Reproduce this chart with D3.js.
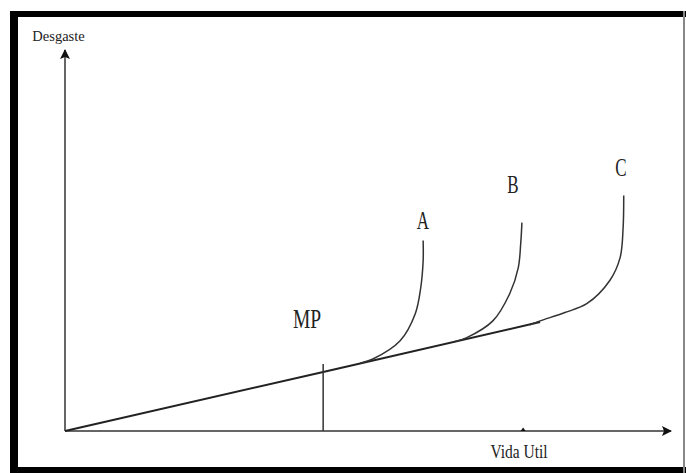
<!DOCTYPE html>
<html><head><meta charset="utf-8">
<script src="https://cdn.jsdelivr.net/npm/d3@7"></script>
<style>html,body{margin:0;padding:0;background:#fff;}svg{display:block;}</style>
</head><body>
<svg id="chart" width="686" height="473"></svg>
<script>
// Data (schematic values: x = vida útil, y = desgaste)
const baseLine = [[0,0],[42.6,15.5],[78.4,28.6]];
const curveA = [[48.7,17.8],[50.8,18.9],[55.3,23.7],[57.8,30.8],[58.7,37.6],[59.1,44.7],[59.1,50.0]];
const curveB = [[64.4,23.5],[66.3,24.5],[70.6,28.9],[73.4,36.1],[74.8,42.9],[75.2,49.2],[75.4,54.7]];
const curveC = [[76.7,27.9],[78.4,28.9],[82.5,31.1],[86.1,33.4],[89.9,39.5],[91.6,45.5],[92.1,53.4],[92.2,61.8]];
const curveLabels = ["A","B","C"];
const mpX = 42.6, mpTop = 17.6;
const markX = 75.6;
const xTitle = "Vida Util", yTitle = "Desgaste", mpLabel = "MP";

const svg = d3.select("#chart");
const x = d3.scaleLinear().domain([0,100]).range([65,671]);
const y = d3.scaleLinear().domain([0,100]).range([431,50]);

// frame
svg.append("rect").attr("x",10).attr("y",11).attr("width",676).attr("height",6).attr("fill","#000");
svg.append("rect").attr("x",10).attr("y",11).attr("width",8).attr("height",462).attr("fill","#000");
svg.append("rect").attr("x",10).attr("y",467).attr("width",676).attr("height",6).attr("fill","#000");
svg.append("rect").attr("x",683).attr("y",11).attr("width",2).attr("height",462).attr("fill","#888");

const defs = svg.append("defs");
defs.append("marker").attr("id","arr").attr("viewBox","0 0 10 10").attr("refX",9).attr("refY",5)
  .attr("markerWidth",10).attr("markerHeight",10).attr("markerUnits","userSpaceOnUse").attr("orient","auto")
  .append("path").attr("d","M0,0L10,5L0,10L2,5Z").attr("fill","#111");

// axes
svg.append("line").attr("x1",x(0)).attr("y1",y(0)).attr("x2",x(0)).attr("y2",y(100))
  .attr("stroke","#333").attr("stroke-width",1.5).attr("marker-end","url(#arr)");
svg.append("line").attr("x1",x(0)).attr("y1",y(0)).attr("x2",x(100)).attr("y2",y(0))
  .attr("stroke","#333").attr("stroke-width",1.5).attr("marker-end","url(#arr)");

// mark on x axis
svg.append("path").attr("d",`M${x(markX)-2.5},${y(0)}L${x(markX)},${y(0)-3.5}L${x(markX)+2.5},${y(0)}Z`).attr("fill","#111");

const line = d3.line().x(d=>x(d[0])).y(d=>y(d[1])).curve(d3.curveCatmullRom.alpha(0.5));
svg.append("path").attr("d",d3.line().x(d=>x(d[0])).y(d=>y(d[1]))(baseLine))
  .attr("fill","none").attr("stroke","#222").attr("stroke-width",2);
[curveA,curveB,curveC].forEach(c=>{
  svg.append("path").attr("d",line(c)).attr("fill","none").attr("stroke","#333").attr("stroke-width",1.5);
});

// MP vertical
svg.append("line").attr("x1",x(mpX)).attr("x2",x(mpX)).attr("y1",y(0)).attr("y2",y(mpTop))
  .attr("stroke","#333").attr("stroke-width",1.5);

const serif = "'Liberation Serif','Times New Roman',serif";
function label(txt, cx, cy, size, sy){
  svg.append("text").attr("transform",`translate(${cx},${cy}) scale(1,${sy})`)
    .attr("text-anchor","middle").attr("font-family",serif).attr("font-size",size).attr("fill","#222").text(txt);
}
label(yTitle, 58.5, 41, 14.5, 1.05);
label(xTitle, 519, 458, 15.5, 1.15);
label(mpLabel, 307, 328, 19.5, 1.4);
const lblPos = [[423,229],[513,193],[621,176]];
curveLabels.forEach((t,i)=>label(t, lblPos[i][0], lblPos[i][1], 17, 1.45));
</script>
</body></html>
